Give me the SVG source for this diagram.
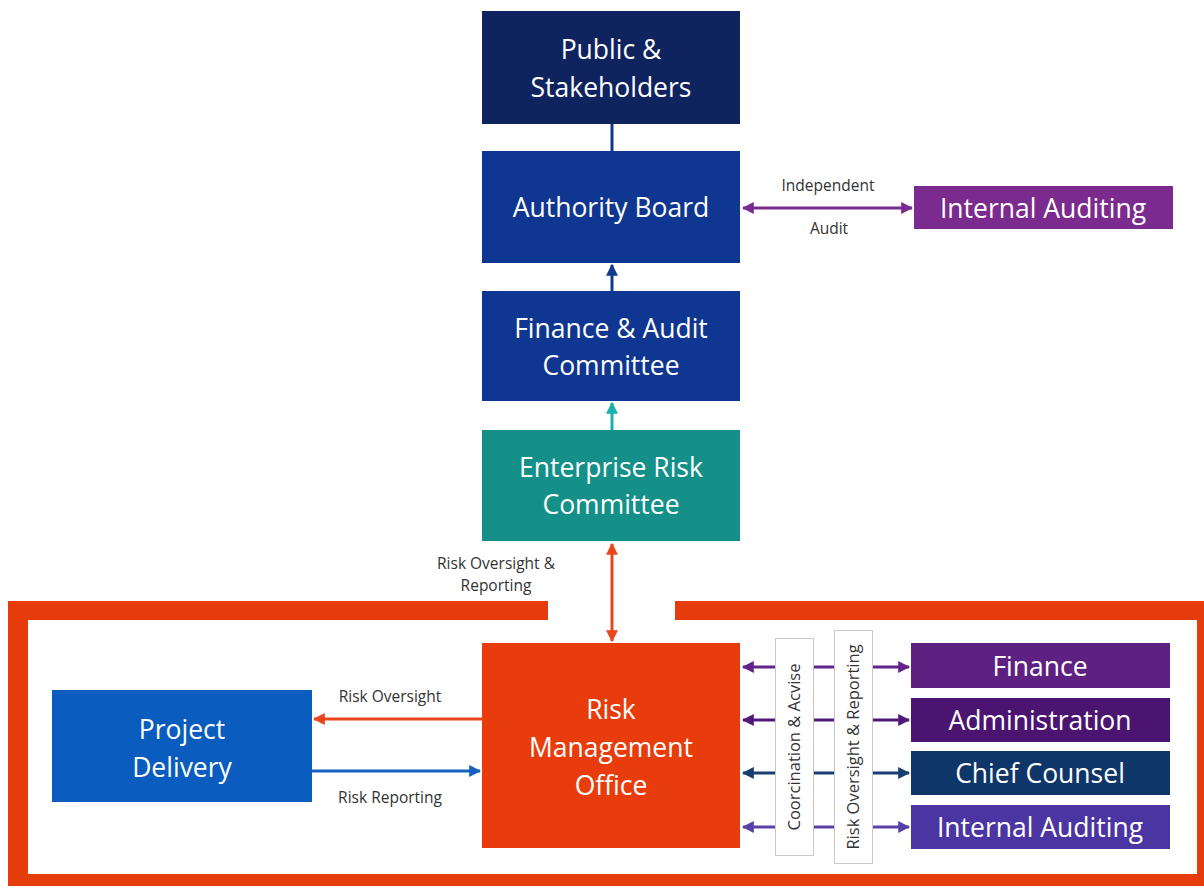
<svg xmlns="http://www.w3.org/2000/svg" width="1204" height="886" viewBox="0 0 1204 886">
<defs>
<style>
.n{font-family:"Open Sans","Noto Sans",sans-serif;font-size:26.5px;fill:#ffffff;text-anchor:middle}
.l{font-family:"Open Sans","Noto Sans",sans-serif;font-size:15.5px;fill:#333333;text-anchor:middle}
.v{font-family:"Open Sans","Noto Sans",sans-serif;font-size:16.5px;fill:#333333;text-anchor:middle}
.frame{fill:#e63b0b}
.vbox{fill:#ffffff;stroke:#c8c8c8;stroke-width:1}
</style>
<marker id="aPur" viewBox="0 0 10 10" refX="9" refY="5" markerWidth="4" markerHeight="4" orient="auto-start-reverse"><path d="M0,0 L10,5 L0,10 z" fill="#7b2a8e"/></marker>
<marker id="aNavy" viewBox="0 0 10 10" refX="9" refY="5" markerWidth="4" markerHeight="4" orient="auto-start-reverse"><path d="M0,0 L10,5 L0,10 z" fill="#12388f"/></marker>
<marker id="aTeal" viewBox="0 0 10 10" refX="9" refY="5" markerWidth="4" markerHeight="4" orient="auto-start-reverse"><path d="M0,0 L10,5 L0,10 z" fill="#1ab0ac"/></marker>
<marker id="aOr" viewBox="0 0 10 10" refX="9" refY="5" markerWidth="4" markerHeight="4" orient="auto-start-reverse"><path d="M0,0 L10,5 L0,10 z" fill="#e8471c"/></marker>
<marker id="aBlue" viewBox="0 0 10 10" refX="9" refY="5" markerWidth="4" markerHeight="4" orient="auto-start-reverse"><path d="M0,0 L10,5 L0,10 z" fill="#1560c0"/></marker>
<marker id="aP1" viewBox="0 0 10 10" refX="9" refY="5" markerWidth="4" markerHeight="4" orient="auto-start-reverse"><path d="M0,0 L10,5 L0,10 z" fill="#63238a"/></marker>
<marker id="aP2" viewBox="0 0 10 10" refX="9" refY="5" markerWidth="4" markerHeight="4" orient="auto-start-reverse"><path d="M0,0 L10,5 L0,10 z" fill="#521a78"/></marker>
<marker id="aN2" viewBox="0 0 10 10" refX="9" refY="5" markerWidth="4" markerHeight="4" orient="auto-start-reverse"><path d="M0,0 L10,5 L0,10 z" fill="#163e70"/></marker>
<marker id="aP3" viewBox="0 0 10 10" refX="9" refY="5" markerWidth="4" markerHeight="4" orient="auto-start-reverse"><path d="M0,0 L10,5 L0,10 z" fill="#5840a8"/></marker>
</defs>
<rect width="1204" height="886" fill="#ffffff"/>

<g id="frame">
<rect class="frame" x="8" y="601" width="540" height="19"/>
<rect class="frame" x="675" y="601" width="529" height="19"/>
<rect class="frame" x="8" y="601" width="20" height="285"/>
<rect class="frame" x="1197" y="601" width="7" height="285"/>
<rect class="frame" x="8" y="874" width="1196" height="12"/>
</g>

<g id="connectors">
<line x1="612" y1="124" x2="612" y2="151" stroke="#12388f" stroke-width="3"/>
<line x1="612" y1="291" x2="612" y2="265" stroke="#12388f" stroke-width="3" marker-end="url(#aNavy)"/>
<line x1="612" y1="430" x2="612" y2="403" stroke="#1ab0ac" stroke-width="3" marker-end="url(#aTeal)"/>
<line x1="612" y1="544" x2="612" y2="641" stroke="#e8471c" stroke-width="3" marker-start="url(#aOr)" marker-end="url(#aOr)"/>
<line x1="743" y1="208" x2="912" y2="208" stroke="#7b2a8e" stroke-width="3" marker-start="url(#aPur)" marker-end="url(#aPur)"/>
<line x1="482" y1="719" x2="314" y2="719" stroke="#e8471c" stroke-width="3" marker-end="url(#aOr)"/>
<line x1="312" y1="771" x2="480" y2="771" stroke="#1560c0" stroke-width="3" marker-end="url(#aBlue)"/>
<line x1="743" y1="667" x2="909" y2="667" stroke="#63238a" stroke-width="3" marker-start="url(#aP1)" marker-end="url(#aP1)"/>
<line x1="743" y1="720" x2="909" y2="720" stroke="#521a78" stroke-width="3" marker-start="url(#aP2)" marker-end="url(#aP2)"/>
<line x1="743" y1="773" x2="909" y2="773" stroke="#163e70" stroke-width="3" marker-start="url(#aN2)" marker-end="url(#aN2)"/>
<line x1="743" y1="827" x2="909" y2="827" stroke="#5840a8" stroke-width="3" marker-start="url(#aP3)" marker-end="url(#aP3)"/>
<text class="l" x="828" y="191">Independent</text>
<text class="l" x="829" y="234">Audit</text>
<text class="l" x="496" y="569">Risk Oversight &amp;</text>
<text class="l" x="496" y="591">Reporting</text>
<text class="l" x="390" y="702">Risk Oversight</text>
<text class="l" x="390" y="803">Risk Reporting</text>
</g>

<g id="coordination">
<rect class="vbox" x="775.5" y="638.5" width="38" height="217"/>
<text class="v" transform="translate(800,747) rotate(-90)">Coorcination &amp; Acvise</text>
</g>
<g id="oversight-reporting">
<rect class="vbox" x="834.5" y="630.5" width="38" height="233"/>
<text class="v" transform="translate(859,747) rotate(-90)">Risk Oversight &amp; Reporting</text>
</g>

<g id="public">
<rect x="482" y="11" width="258" height="113" fill="#0f235f"/>
<text class="n" x="611" y="59">Public &amp;</text>
<text class="n" x="611" y="97">Stakeholders</text>
</g>
<g id="authority-board">
<rect x="482" y="151" width="258" height="112" fill="#0f3690"/>
<text class="n" x="611" y="217">Authority Board</text>
</g>
<g id="finance-audit">
<rect x="482" y="291" width="258" height="110" fill="#0f3690"/>
<text class="n" x="611" y="338">Finance &amp; Audit</text>
<text class="n" x="611" y="375">Committee</text>
</g>
<g id="erc">
<rect x="482" y="430" width="258" height="111" fill="#149089"/>
<text class="n" x="611" y="477">Enterprise Risk</text>
<text class="n" x="611" y="514">Committee</text>
</g>
<g id="rmo">
<rect x="482" y="643" width="258" height="205" fill="#e83c0c"/>
<text class="n" x="611" y="719">Risk</text>
<text class="n" x="611" y="757">Management</text>
<text class="n" x="611" y="795">Office</text>
</g>
<g id="project-delivery">
<rect x="52" y="690" width="260" height="112" fill="#0a5cbe"/>
<text class="n" x="182" y="739">Project</text>
<text class="n" x="182" y="777">Delivery</text>
</g>
<g id="internal-auditing-top">
<rect x="914" y="186" width="259" height="43" fill="#7b2a8e"/>
<text class="n" x="1043" y="218">Internal Auditing</text>
</g>
<g id="finance">
<rect x="911" y="643" width="259" height="45" fill="#5e2182"/>
<text class="n" x="1040" y="676">Finance</text>
</g>
<g id="administration">
<rect x="911" y="698" width="259" height="44" fill="#4a1470"/>
<text class="n" x="1040" y="730">Administration</text>
</g>
<g id="chief-counsel">
<rect x="911" y="751" width="259" height="44" fill="#0e3668"/>
<text class="n" x="1040" y="783">Chief Counsel</text>
</g>
<g id="internal-auditing-bottom">
<rect x="911" y="805" width="259" height="44" fill="#4b35a2"/>
<text class="n" x="1040" y="837">Internal Auditing</text>
</g>
</svg>
